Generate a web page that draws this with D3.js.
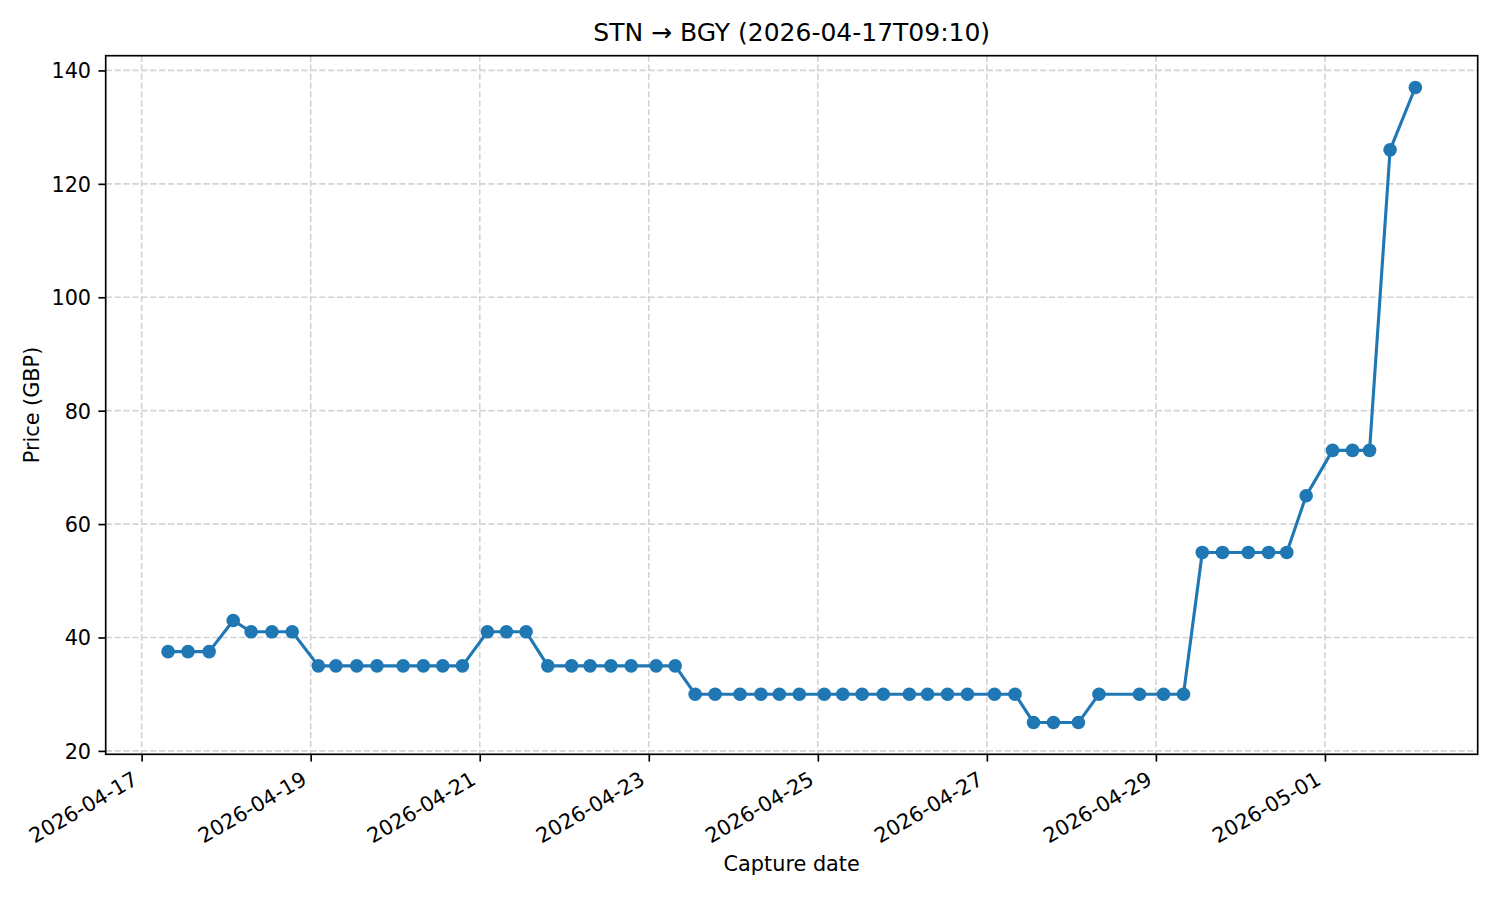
<!DOCTYPE html>
<html>
<head>
<meta charset="utf-8">
<script src="https://cdn.jsdelivr.net/npm/d3@7"></script>
<style>
  html, body { margin: 0; padding: 0; background: #ffffff; }
  svg { display: block; font-family: "DejaVu Sans", sans-serif; }
  svg text { font-family: "DejaVu Sans", sans-serif; }
</style>
</head>
<body>
<svg id="chart" width="1500" height="900"></svg>
<script>
// ---- data ----
const captureTimes = [
  "2026-04-17T07:30", "2026-04-17T13:10", "2026-04-17T19:10",
  "2026-04-18T02:00", "2026-04-18T07:05", "2026-04-18T13:00", "2026-04-18T18:45",
  "2026-04-19T02:10", "2026-04-19T07:10", "2026-04-19T13:05", "2026-04-19T18:50",
  "2026-04-20T02:15", "2026-04-20T08:00", "2026-04-20T13:30", "2026-04-20T19:05",
  "2026-04-21T02:10", "2026-04-21T07:35", "2026-04-21T13:10", "2026-04-21T19:20",
  "2026-04-22T02:05", "2026-04-22T07:20", "2026-04-22T13:15", "2026-04-22T19:00",
  "2026-04-23T02:05", "2026-04-23T07:30", "2026-04-23T13:10", "2026-04-23T18:50",
  "2026-04-24T01:55", "2026-04-24T07:50", "2026-04-24T13:05", "2026-04-24T18:45",
  "2026-04-25T01:50", "2026-04-25T07:05", "2026-04-25T12:35", "2026-04-25T18:35",
  "2026-04-26T02:00", "2026-04-26T07:10", "2026-04-26T12:50", "2026-04-26T18:30",
  "2026-04-27T02:10", "2026-04-27T08:00", "2026-04-27T13:15", "2026-04-27T18:55",
  "2026-04-28T02:00", "2026-04-28T07:50", "2026-04-28T19:20",
  "2026-04-29T02:10", "2026-04-29T07:50", "2026-04-29T13:10", "2026-04-29T18:55",
  "2026-04-30T02:15", "2026-04-30T08:00", "2026-04-30T13:10", "2026-04-30T18:40",
  "2026-05-01T02:10", "2026-05-01T07:50", "2026-05-01T12:40", "2026-05-01T18:30",
  "2026-05-02T01:40"
];
const prices = [
  37.5, 37.5, 37.5,
  43, 41, 41, 41,
  35, 35, 35, 35,
  35, 35, 35, 35,
  41, 41, 41, 35,
  35, 35, 35, 35,
  35, 35, 30, 30,
  30, 30, 30, 30,
  30, 30, 30, 30,
  30, 30, 30, 30,
  30, 30, 25, 25,
  25, 30, 30,
  30, 30, 55, 55,
  55, 55, 55, 65,
  73, 73, 73, 126,
  137
];
const xTickLabels = ["2026-04-17", "2026-04-19", "2026-04-21", "2026-04-23",
                     "2026-04-25", "2026-04-27", "2026-04-29", "2026-05-01"];
const yTickValues = [20, 40, 60, 80, 100, 120, 140];
const titleText = "STN \u2192 BGY (2026-04-17T09:10)";
const xLabelText = "Capture date";
const yLabelText = "Price (GBP)";

// ---- layout ----
const FONT = "DejaVu Sans";
const parse = d3.utcParse("%Y-%m-%dT%H:%M");
const parseDay = d3.utcParse("%Y-%m-%d");
const data = captureTimes.map((t, i) => ({ t: parse(t), v: prices[i] }));

const L = 105.7, R = 1477.7, T = 55.7, B = 754.3;
const svg = d3.select("#chart");

const tExt = d3.extent(data, d => +d.t);
const tPad = (tExt[1] - tExt[0]) * 0.05;
const x = d3.scaleUtc()
  .domain([new Date(tExt[0] - tPad), new Date(tExt[1] + tPad)])
  .range([L, R]);
const vExt = d3.extent(data, d => d.v);
const vPad = (vExt[1] - vExt[0]) * 0.05;
const y = d3.scaleLinear()
  .domain([vExt[0] - vPad, vExt[1] + vPad])
  .range([B, T]);

const xTicks = xTickLabels.map(s => parseDay(s));

// grid
const grid = svg.append("g").attr("class", "grid");
grid.selectAll("line.vx").data(xTicks).join("line")
  .attr("x1", d => x(d)).attr("x2", d => x(d))
  .attr("y1", T).attr("y2", B)
  .attr("stroke", "#d4d4d4").attr("stroke-width", 1.67)
  .attr("stroke-dasharray", "6.2,2.7");
grid.selectAll("line.hy").data(yTickValues).join("line")
  .attr("x1", L).attr("x2", R)
  .attr("y1", d => y(d)).attr("y2", d => y(d))
  .attr("stroke", "#d4d4d4").attr("stroke-width", 1.67)
  .attr("stroke-dasharray", "6.2,2.7");

// line + markers
const line = d3.line().x(d => x(d.t)).y(d => y(d.v));
svg.append("path").datum(data)
  .attr("d", line)
  .attr("fill", "none")
  .attr("stroke", "#1f77b4")
  .attr("stroke-width", 3.1)
  .attr("stroke-linejoin", "round")
  .attr("stroke-linecap", "square");
svg.append("g").selectAll("circle").data(data).join("circle")
  .attr("cx", d => x(d.t)).attr("cy", d => y(d.v))
  .attr("r", 6.8)
  .attr("fill", "#1f77b4");

// axes
const xAxis = d3.axisBottom(x).tickValues(xTicks).tickSize(7.3).tickPadding(7.3)
  .tickFormat(d3.utcFormat("%Y-%m-%d"));
const gx = svg.append("g").attr("transform", `translate(0,${B})`).call(xAxis)
  .attr("font-family", FONT).attr("font-size", 20.8);
gx.select(".domain").remove();
gx.selectAll(".tick line").attr("stroke", "#000").attr("stroke-width", 1.67);
gx.selectAll(".tick text")
  .attr("font-size", 20.8)
  .attr("font-family", FONT)
  .attr("fill", "#000")
  .attr("text-anchor", "end")
  .attr("dy", null)
  .attr("y", null)
  .attr("transform", "translate(-3,29) rotate(-30)");

const yAxis = d3.axisLeft(y).tickValues(yTickValues).tickSize(7.3).tickPadding(7.3);
const gy = svg.append("g").attr("transform", `translate(${L},0)`).call(yAxis)
  .attr("font-family", FONT).attr("font-size", 20.8);
gy.select(".domain").remove();
gy.selectAll(".tick line").attr("stroke", "#000").attr("stroke-width", 1.67);
gy.selectAll(".tick text").attr("font-size", 20.8).attr("font-family", FONT)
  .attr("fill", "#000").attr("dy", "0.36em");

// frame
svg.append("rect").attr("x", L).attr("y", T).attr("width", R - L).attr("height", B - T)
  .attr("fill", "none").attr("stroke", "#000").attr("stroke-width", 1.67);

// labels
svg.append("text").attr("x", (L + R) / 2).attr("y", 40.5)
  .attr("text-anchor", "middle").attr("font-size", 25).attr("font-family", FONT)
  .attr("fill", "#000").text(titleText);
svg.append("text").attr("x", (L + R) / 2).attr("y", 871)
  .attr("text-anchor", "middle").attr("font-size", 20.8).attr("font-family", FONT)
  .attr("fill", "#000").text(xLabelText);
svg.append("text")
  .attr("transform", `translate(39,${(T + B) / 2}) rotate(-90)`)
  .attr("text-anchor", "middle").attr("font-size", 20.8).attr("font-family", FONT)
  .attr("fill", "#000").text(yLabelText);
</script>
</body>
</html>
